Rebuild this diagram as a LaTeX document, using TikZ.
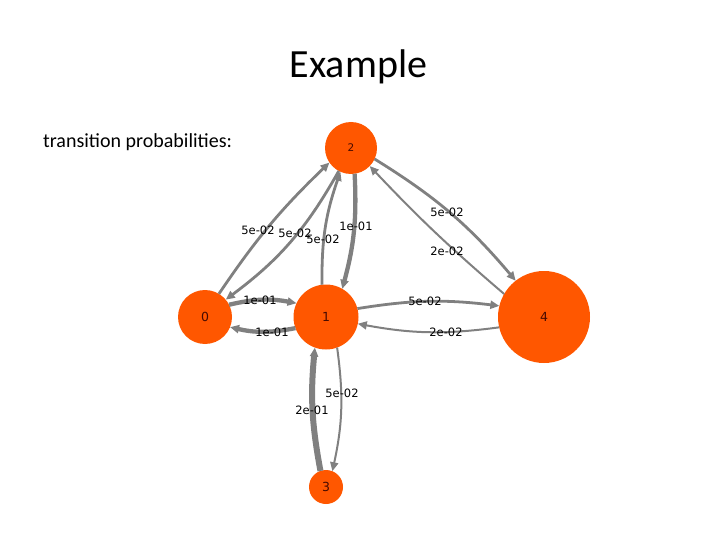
\documentclass[tikz,border=0pt]{standalone}
\usepackage{fontspec}
\setmainfont{Carlito}
\newfontfamily\dejavu{DejaVu Sans}
\usetikzlibrary{arrows.meta}
\definecolor{nodeorange}{RGB}{255,87,0}
\definecolor{edgegray}{RGB}{128,128,128}
\definecolor{numcol}{RGB}{70,10,0}
\begin{document}
\begin{tikzpicture}[x=1pt,y=1pt,
  state/.style={circle,fill=nodeorange,draw=none,inner sep=0pt,outer sep=0pt,
    font=\dejavu\fontsize{12.5}{14}\selectfont,text=numcol},
  edge/.style={draw=edgegray,-{Triangle[length=9pt,width=8pt]}},
  pA/.style={edge,line width=6pt},
  pB/.style={edge,line width=4.3pt},
  pC/.style={edge,line width=2.8pt},
  pD/.style={edge,line width=2pt},
  elabel/.style={font=\dejavu\fontsize{11.5}{13}\selectfont,inner sep=0pt,text=black}
]
\useasboundingbox (0,0) rectangle (720,-540);
\node[font=\fontsize{40}{48}\selectfont,anchor=base] (title) at (358.5,-78) {Example};
\node[font=\fontsize{20}{24}\selectfont,anchor=base west,inner sep=0pt] (tp) at (43,-148) {transition probabilities:};

\node[state,minimum size=52pt,font=\dejavu\fontsize{10.5}{12}\selectfont] (n2) at (351,-148) {2};
\node[state,minimum size=54pt] (n0) at (205,-317) {0};
\node[state,minimum size=65pt] (n1) at (326,-317) {1};
\node[state,minimum size=92pt] (n4) at (544,-317) {4};
\node[state,minimum size=34pt] (n3) at (326,-487) {3};

\draw[pC] (n0.59) to[bend left=6] (n2.214);
\draw[pC] (n2.242) to[bend left=12] (n0.40);
\draw[pC] (n1.97) to[bend left=10] (n2.246);
\draw[pB] (n2.278) to[bend left=9] (n1.60);
\draw[pB] (n0.27) to[bend left=12] (n1.155);
\draw[pB] (n1.200) to[bend left=12] (n0.338);
\draw[pC] (n1.15) to[bend left=8] (n4.166);
\draw[pD] (n4.193) to[bend left=9] (n1.348);
\draw[pC] (n2.335) to[bend left=9] (n4.128);
\draw[pD] (n4.150) to[bend left=3] (n2.316);
\draw[pA] (n3.109) to[bend left=8] (n1.250);
\draw[pD] (n1.290) to[bend left=10] (n3.68);

\node[elabel] (l02) at (258,-230) {5e-02};
\node[elabel] (l20) at (295,-233) {5e-02};
\node[elabel] (l12) at (323,-239) {5e-02};
\node[elabel] (l21) at (356,-226) {1e-01};
\node[elabel] (l01) at (260,-300) {1e-01};
\node[elabel] (l10) at (272,-332) {1e-01};
\node[elabel] (l14) at (425,-301) {5e-02};
\node[elabel] (l41) at (446,-332) {2e-02};
\node[elabel] (l24) at (447,-212) {5e-02};
\node[elabel] (l42) at (447,-251) {2e-02};
\node[elabel] (l31) at (312,-410) {2e-01};
\node[elabel] (l13) at (342,-393) {5e-02};
\end{tikzpicture}
\end{document}
